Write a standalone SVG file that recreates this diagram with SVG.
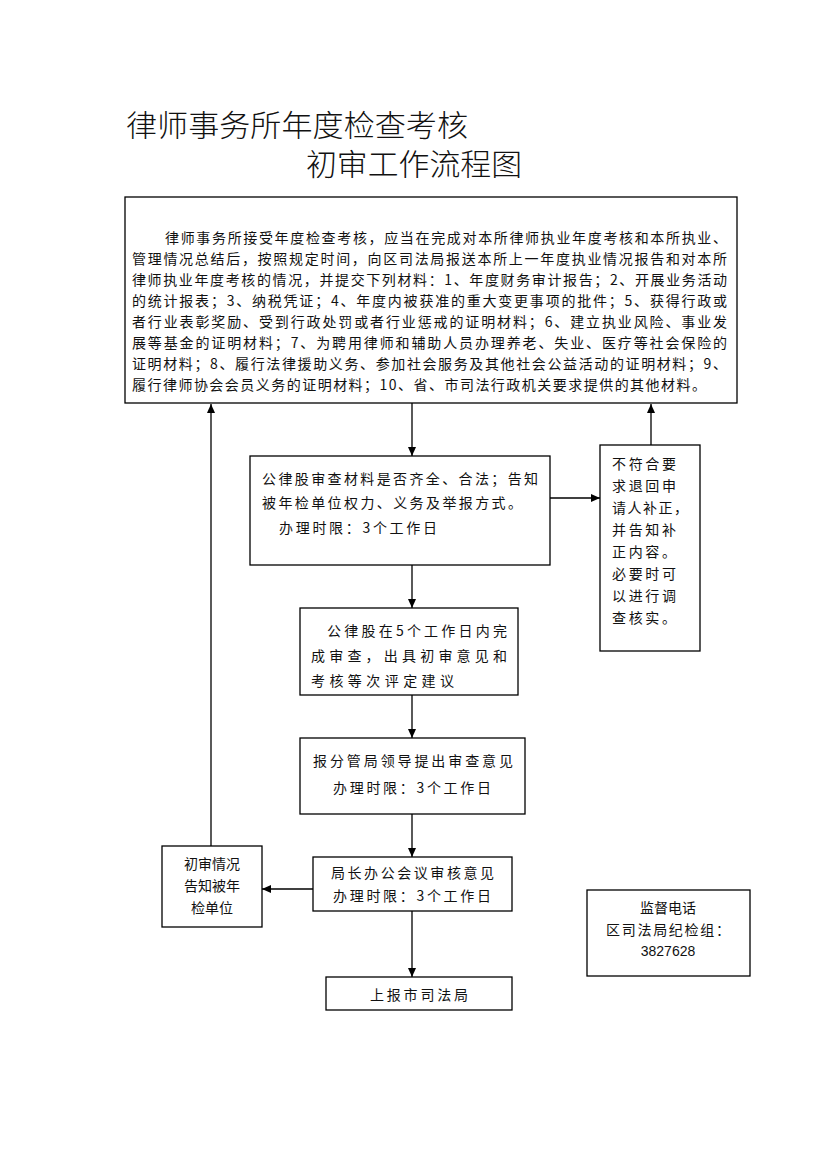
<svg xmlns="http://www.w3.org/2000/svg" width="826" height="1169" viewBox="0 0 826 1169">
<style>
.bx{fill:#fff;stroke:#000;stroke-width:1.3}
.t{font-family:"Noto Sans CJK SC","Liberation Serif",serif;font-size:14px;fill:#111;dominant-baseline:central}
.c{text-anchor:middle}
.title{font-family:"Noto Sans CJK SC","Liberation Serif",serif;font-size:30px;fill:#111;font-weight:300;dominant-baseline:central}
.ln{stroke:#000;stroke-width:1.3;fill:none}
</style>
<defs>
<marker id="ah" markerWidth="10" markerHeight="10" refX="9" refY="5" orient="auto" markerUnits="userSpaceOnUse">
<path d="M0,1 L9,5 L0,9 Z" fill="#000"/>
</marker>
</defs>
<rect width="826" height="1169" fill="#fff"/>
<g id="title">
<text class="title" x="126" y="123" textLength="342" lengthAdjust="spacingAndGlyphs">律师事务所年度检查考核</text>
<text class="title" x="306" y="162" textLength="216" lengthAdjust="spacingAndGlyphs">初审工作流程图</text>
</g>
<g id="connectors">
<line class="ln" x1="412" y1="403" x2="412" y2="456" marker-end="url(#ah)"/>
<line class="ln" x1="211" y1="846" x2="211" y2="404" marker-end="url(#ah)"/>
<line class="ln" x1="651" y1="445" x2="651" y2="404" marker-end="url(#ah)"/>
<line class="ln" x1="550" y1="498" x2="600" y2="498" marker-end="url(#ah)"/>
<line class="ln" x1="412" y1="565" x2="412" y2="608" marker-end="url(#ah)"/>
<line class="ln" x1="412" y1="695" x2="412" y2="738" marker-end="url(#ah)"/>
<line class="ln" x1="412" y1="814" x2="412" y2="857" marker-end="url(#ah)"/>
<line class="ln" x1="313" y1="889" x2="262" y2="889" marker-end="url(#ah)"/>
<line class="ln" x1="412" y1="911" x2="412" y2="977" marker-end="url(#ah)"/>
</g>
<g id="n1">
<rect class="bx" x="125" y="197" width="612" height="206"/>
<text class="t" x="165" y="237" textLength="562" lengthAdjust="spacing">律师事务所接受年度检查考核，应当在完成对本所律师执业年度考核和本所执业、</text>
<text class="t" x="132" y="258" textLength="595" lengthAdjust="spacing">管理情况总结后，按照规定时间，向区司法局报送本所上一年度执业情况报告和对本所</text>
<text class="t" x="132" y="279" textLength="595" lengthAdjust="spacing">律师执业年度考核的情况，并提交下列材料：1、年度财务审计报告；2、开展业务活动</text>
<text class="t" x="132" y="300" textLength="595" lengthAdjust="spacing">的统计报表；3、纳税凭证；4、年度内被获准的重大变更事项的批件；5、获得行政或</text>
<text class="t" x="132" y="321" textLength="595" lengthAdjust="spacing">者行业表彰奖励、受到行政处罚或者行业惩戒的证明材料；6、建立执业风险、事业发</text>
<text class="t" x="132" y="342" textLength="595" lengthAdjust="spacing">展等基金的证明材料；7、为聘用律师和辅助人员办理养老、失业、医疗等社会保险的</text>
<text class="t" x="132" y="363" textLength="595" lengthAdjust="spacing">证明材料；8、履行法律援助义务、参加社会服务及其他社会公益活动的证明材料；9、</text>
<text class="t" x="132" y="384" textLength="574" lengthAdjust="spacing">履行律师协会会员义务的证明材料；10、省、市司法行政机关要求提供的其他材料。</text>
</g>
<g id="n2">
<rect class="bx" x="250" y="456" width="300" height="109"/>
<text class="t" x="262" y="478" textLength="276" lengthAdjust="spacing">公律股审查材料是否齐全、合法；告知</text>
<text class="t" x="262" y="502" textLength="260" lengthAdjust="spacing">被年检单位权力、义务及举报方式。</text>
<text class="t" x="279" y="527" textLength="158" lengthAdjust="spacing">办理时限：3个工作日</text>
</g>
<g id="n3">
<rect class="bx" x="600" y="445" width="100" height="206"/>
<text class="t" x="612" y="463" textLength="64" lengthAdjust="spacing">不符合要</text>
<text class="t" x="612" y="485" textLength="64" lengthAdjust="spacing">求退回申</text>
<text class="t" x="612" y="507" textLength="76" lengthAdjust="spacing">请人补正，</text>
<text class="t" x="612" y="529" textLength="64" lengthAdjust="spacing">并告知补</text>
<text class="t" x="612" y="551" textLength="64" lengthAdjust="spacing">正内容。</text>
<text class="t" x="612" y="573" textLength="64" lengthAdjust="spacing">必要时可</text>
<text class="t" x="612" y="595" textLength="64" lengthAdjust="spacing">以进行调</text>
<text class="t" x="612" y="617" textLength="64" lengthAdjust="spacing">查核实。</text>
</g>
<g id="n4">
<rect class="bx" x="300" y="608" width="218" height="87"/>
<text class="t" x="327" y="630" textLength="180" lengthAdjust="spacing">公律股在5个工作日内完</text>
<text class="t" x="311" y="655" textLength="196" lengthAdjust="spacing">成审查，出具初审意见和</text>
<text class="t" x="311" y="680" textLength="143" lengthAdjust="spacing">考核等次评定建议</text>
</g>
<g id="n5">
<rect class="bx" x="300" y="738" width="225" height="76"/>
<text class="t" x="313" y="760" textLength="200" lengthAdjust="spacing">报分管局领导提出审查意见</text>
<text class="t" x="333" y="787" textLength="158" lengthAdjust="spacing">办理时限：3个工作日</text>
</g>
<g id="n6">
<rect class="bx" x="313" y="857" width="199" height="54"/>
<text class="t" x="331" y="872" textLength="163" lengthAdjust="spacing">局长办公会议审核意见</text>
<text class="t" x="333" y="895" textLength="158" lengthAdjust="spacing">办理时限：3个工作日</text>
</g>
<g id="n7">
<rect class="bx" x="162" y="846" width="100" height="81"/>
<text class="t c" x="212" y="863">初审情况</text>
<text class="t c" x="212" y="885">告知被年</text>
<text class="t c" x="212" y="907">检单位</text>
</g>
<g id="n8">
<rect class="bx" x="326" y="977" width="186" height="33"/>
<text class="t" x="370" y="994" textLength="98" lengthAdjust="spacing">上报市司法局</text>
</g>
<g id="n9">
<rect class="bx" x="587" y="890" width="163" height="86"/>
<text class="t c" x="668" y="907">监督电话</text>
<text class="t c" x="668" y="929" textLength="124" lengthAdjust="spacing">区司法局纪检组：</text>
<text class="t c" x="668" y="951" style="font-family:'Liberation Sans',sans-serif">3827628</text>
</g>
</svg>
